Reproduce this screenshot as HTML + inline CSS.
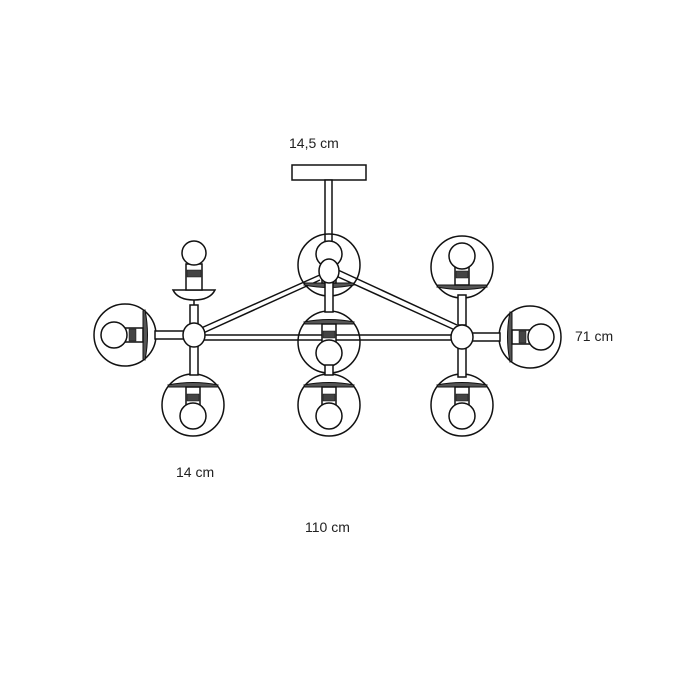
<!DOCTYPE html>
<html><head><style>
html,body{margin:0;padding:0;background:#fff;width:700px;height:699px;overflow:hidden}
svg{display:block}
text{font-family:"Liberation Sans",sans-serif;font-size:14px;fill:#222}
</style></head><body>
<svg width="700" height="699" viewBox="0 0 700 699" xmlns="http://www.w3.org/2000/svg">
<defs>
<g id="g" fill="none" stroke="#111" stroke-width="1.5">
  <circle r="31" fill="none"/>
  <path d="M-25 -20 Q0 -25 25 -20 L24 -18 L-24 -18 Z" fill="#555" stroke-width="1"/>
  <rect x="-7" y="-18" width="14" height="18" fill="#fff"/>
  <rect x="-6" y="-11" width="12" height="7" fill="#444" stroke-width="0.5"/>
  <circle cy="11" r="13" fill="#fff"/>
</g>
</defs>
<g fill="none" stroke="#111" stroke-width="1.5">
<rect x="292" y="165" width="74" height="15" fill="#fff"/>
<rect x="325" y="180" width="7" height="85" fill="#fff"/>
<line x1="199" y1="329" x2="322" y2="274"/>
<line x1="201" y1="334" x2="320" y2="280"/>
<line x1="336" y1="276" x2="455" y2="330"/>
<line x1="338" y1="270" x2="457" y2="325"/>
<line x1="200" y1="335" x2="455" y2="335"/>
<line x1="200" y1="340" x2="455" y2="340"/>
</g>
<use href="#g" transform="translate(329,265) rotate(180)" />
<use href="#g" transform="translate(329,342)"/>
<use href="#g" transform="translate(329,405)"/>
<use href="#g" transform="translate(125,335) rotate(90)"/>
<use href="#g" transform="translate(193,405)"/>
<use href="#g" transform="translate(462,267) rotate(180)"/>
<use href="#g" transform="translate(530,337) rotate(-90)"/>
<use href="#g" transform="translate(462,405)"/>
<g fill="#fff" stroke="#111" stroke-width="1.5">
<line x1="194" y1="296" x2="194" y2="325"/>
<path d="M173 290 L215 290 Q210 300 194 300 Q178 300 173 290 Z"/>
<rect x="186" y="264" width="16" height="26"/>
<rect x="187" y="270" width="14" height="7" fill="#444" stroke-width="0.5"/>
<circle cx="194" cy="253" r="12"/>
<rect x="190" y="305" width="8" height="20"/>
<rect x="190" y="345" width="8" height="30"/>
<rect x="155" y="331" width="30" height="8"/>
<ellipse cx="194" cy="335" rx="11" ry="12"/>
<rect x="325" y="282" width="8" height="30"/>
<ellipse cx="329" cy="271" rx="10" ry="12"/>
<rect x="325" y="365" width="8" height="10"/>
<rect x="458" y="295" width="8" height="30"/>
<rect x="458" y="347" width="8" height="30"/>
<rect x="470" y="333" width="30" height="8"/>
<ellipse cx="462" cy="337" rx="11" ry="12"/>
</g>
<text x="289" y="148">14,5 cm</text>
<text x="575" y="341">71 cm</text>
<text x="176" y="477">14 cm</text>
<text x="305" y="532">110 cm</text>
</svg>
</body></html>
